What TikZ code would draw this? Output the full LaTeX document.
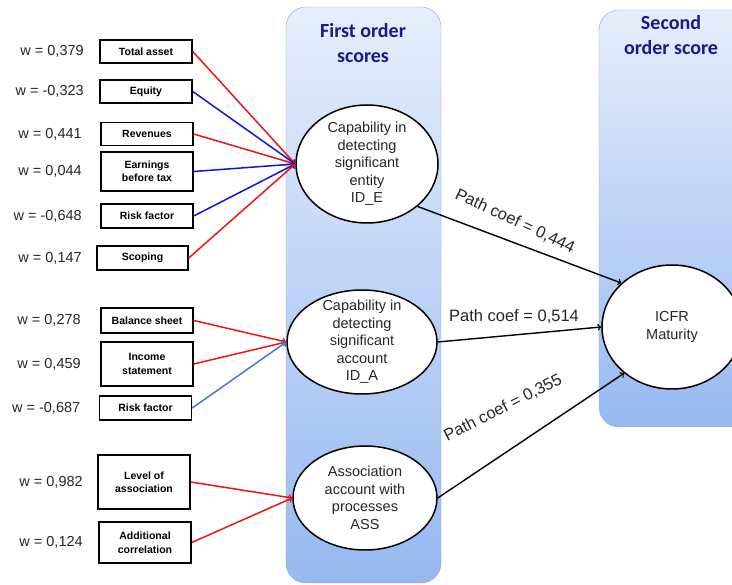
\documentclass[tikz,border=0pt]{standalone}
\usepackage{fontspec}
\setmainfont{Liberation Sans}
\newfontfamily\titlefont{Carlito}
\usetikzlibrary{positioning,shapes.geometric}

\definecolor{colTop}{RGB}{230,238,251}
\definecolor{colBot}{RGB}{150,185,240}
\definecolor{colEdge}{RGB}{140,168,215}
\definecolor{navy}{RGB}{25,25,140}
\definecolor{posred}{RGB}{240,20,20}
\definecolor{negblue}{RGB}{20,20,205}
\definecolor{lightneg}{RGB}{70,120,230}

\tikzset{
  scorecol/.style={draw=colEdge, thin, rounded corners=20pt, top color=colTop, bottom color=colBot},
  indicator/.style={draw, line width=1.5pt, fill=white, minimum width=92pt, minimum height=23pt,
    inner sep=1pt, align=center, font=\fontsize{10.5}{13.5}\selectfont\bfseries},
  wlabel/.style={font=\fontsize{14.5}{17}\selectfont, text=black!85},
  scorenode/.style={ellipse, draw, line width=1.5pt, fill=white, inner sep=-5pt, align=center,
    font=\fontsize{14.5}{17.5}\selectfont, text=black!85},
  coltitle/.style={align=center, text=navy, font=\titlefont\fontsize{20}{25.5}\selectfont\bfseries},
  posw/.style={->, posred, line width=1.5pt},
  negw/.style={->, negblue, line width=1.5pt},
  pathcoef/.style={->, line width=1.4pt},
  coef/.style={font=\fontsize{16.5}{20}\selectfont, text=black!85}
}

\begin{document}
\begin{tikzpicture}[x=1pt, y=-1pt]
	\useasboundingbox (0,0) rectangle (732,585);
	
	% Spalten
	\draw[scorecol] (286,7) rectangle (441,583);
	\draw[scorecol] (599,10) rectangle (765,427);
	\node[coltitle] (t1) at (363,43) {First order\\scores};
	\node[coltitle] (t2) at (671,35) {Second\\order score};
	
	% first order scores
	\node[scorenode, minimum width=142pt, minimum height=118pt] (ide) at (367,164)
		{Capability in\\detecting\\significant\\entity\\ID\_E};
	\node[scorenode, minimum width=150pt, minimum height=104pt] (ida) at (362,342)
		{Capability in\\detecting\\significant\\account\\ID\_A};
	\node[scorenode, minimum width=144pt, minimum height=104pt] (ass) at (365,498)
		{Association\\account with\\processes\\ASS};
	% second order score
	\node[scorenode, minimum width=140pt, minimum height=124pt] (icfr) at (672,327)
		{ICFR\\Maturity};
	
	% Indikatoren ID_E
	\node[indicator] (tot) at (146,51.5) {Total asset};
	\node[indicator] (equ) at (146,91.5) {Equity};
	\node[indicator] (rev) at (147,134) {Revenues};
	\node[indicator, minimum height=39pt] (ebt) at (147,171.5) {Earnings\\before tax};
	\node[indicator, minimum height=24pt] (rske) at (147,216) {Risk factor};
	\node[indicator, minimum height=24pt, minimum width=91pt] (scp) at (142.5,258) {Scoping};
	
	% Indikatoren ID_A
	\node[indicator, minimum height=25pt] (bal) at (147,320.5) {Balance sheet};
	\node[indicator, minimum height=44pt] (inc) at (147,364) {Income\\statement};
	\node[indicator, minimum height=24pt] (rska) at (145.5,408) {Risk factor};
	
	% Indikatoren ASS
	\node[indicator, minimum height=54pt] (lvl) at (144,482) {Level of\\association};
	\node[indicator, minimum height=41pt] (add) at (145,542.5) {Additional\\correlation};
	
	% Gewichte
	\node[wlabel, left=12pt of tot] (wtot) {w = 0,379};
	\node[wlabel, left=12pt of equ] (wequ) {w = -0,323};
	\node[wlabel, left=15pt of rev] (wrev) {w = 0,441};
	\node[wlabel, left=15pt of ebt] (webt) {w = 0,044};
	\node[wlabel, left=15pt of rske] (wrske) {w = -0,648};
	\node[wlabel, left=11pt of scp] (wscp) {w = 0,147};
	\node[wlabel, left=16pt of bal] (wbal) {w = 0,278};
	\node[wlabel, left=16pt of inc] (winc) {w = 0,459};
	\node[wlabel, left=15pt of rska] (wrska) {w = -0,687};
	\node[wlabel, left=11pt of lvl] (wlvl) {w = 0,982};
	\node[wlabel, left=12pt of add] (wadd) {w = 0,124};
	
	% Pfeile zu ID_E
	\draw[posw] (tot.east) -- (ide.west);
	\draw[negw] (equ.east) -- (ide.west);
	\draw[posw] (rev.east) -- (ide.west);
	\draw[negw] (ebt.east) -- (ide.west);
	\draw[negw] (rske.east) -- (ide.west);
	\draw[posw] (scp.east) -- (ide.west);
	% Pfeile zu ID_A
	\draw[posw] (bal.east) -- (ida.west);
	\draw[posw] (inc.east) -- (ida.west);
	\draw[negw, lightneg] (rska.east) -- (ida.west);
	% Pfeile zu ASS
	\draw[posw] (lvl.east) -- (ass.west);
	\draw[posw] (add.east) -- (ass.west);
	
	% Pfadkoeffizienten
	\draw[pathcoef] (ide.-40) -- (icfr.139);
	\draw[pathcoef] (ida.east) -- (icfr.west);
	\draw[pathcoef] (ass.east) -- (icfr.-136);
	\node[coef, rotate=-25] (c1) at (515,221) {Path coef = 0,444};
	\node[coef] (c2) at (514,317) {Path coef = 0,514};
	\node[coef, rotate=27] (c3) at (503,408) {Path coef = 0,355};
	
\end{tikzpicture}
\end{document}
